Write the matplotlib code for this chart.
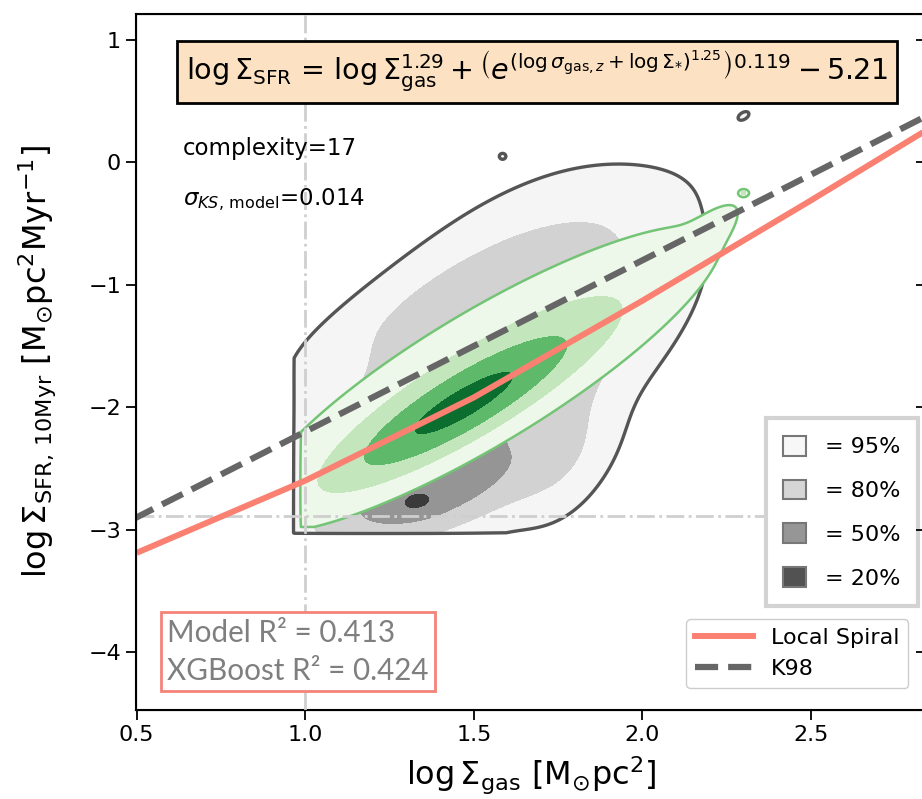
import numpy as np
import matplotlib
matplotlib.use('Agg')
import matplotlib.pyplot as plt
from matplotlib.patches import Patch
from matplotlib.lines import Line2D

# ---- data ----
# grey KDE (all pixels): sheared gaussian blobs (centre, slope, widths, height)
grey_cx = [1.37, 1.33, 1.50, 1.58, 1.75, 1.47, 1.585, 2.30]
grey_cy = [-2.70, -2.78, -1.85, -1.45, -2.35, -1.05, 0.05, 0.38]
grey_k = [0.8, 0.3, 1.45, 1.40, 1.2, 1.2, 0.0, 1.0]
grey_st = [0.20, 0.04, 0.28, 0.29, 0.10, 0.30, 0.008, 0.018]
grey_sr = [0.22, 0.06, 0.40, 0.62, 0.35, 0.22, 0.02, 0.035]
grey_amp = [0.55, 0.35, 0.40, 0.30, 0.15, 0.13, 0.07, 0.065]
grey_levels = [0.05, 0.20, 0.45, 0.90]
grey_cut = (0.965, -3.03)

# green KDE (model)
green_cx = [1.46, 1.55, 2.20, 2.30]
green_cy = [-2.00, -1.69, -0.55, -0.25]
green_k = [1.5, 1.5, 2.0, 0.0]
green_st = [0.22, 0.36, 0.06, 0.007]
green_sr = [0.18, 0.31, 0.10, 0.014]
green_amp = [1.00, 0.35, 0.06, 0.40]
green_levels = [0.06, 0.27, 0.61, 1.08]
green_cut = (0.985, -2.98)

level_labels = ['= 95%', '= 80%', '= 50%', '= 20%']

# local spiral relation
spiral_x = [0.5, 1.0, 1.5, 2.0, 2.5, 2.9]
spiral_y = [-3.19, -2.60, -1.92, -1.13, -0.31, 0.36]

# K98
k98_slope = 1.4
k98_norm = -3.6

gas_cut = 1.0
sfr_cut = -2.89

equation = (r'$\log\Sigma_{\rm SFR}$ = $\log\Sigma_{\rm gas}^{1.29} + '
            r'\left(e^{(\log\sigma_{{\rm gas},z} + \log\Sigma_{*})^{1.25}}\right)^{0.119} - 5.21$')
complexity = 17
sigma_ks = 0.014
r2_model = 0.413
r2_xgb = 0.424

grey_fill = ['#f5f5f5', '#d2d2d2', '#959595', '#3a3a3a']
grey_legend = ['#f7f7f7', '#d6d6d6', '#969696', '#525252']
green_fill = ['#edf7ea', '#c3e6bd', '#5fb96b', '#0b6e2f']


def density(X, Y, cx, cy, k, st, sr, amp, cut):
    Z = np.zeros_like(X)
    for i in range(len(cx)):
        t = X - cx[i]
        r = (Y - cy[i]) - k[i] * t
        Z += amp[i] * np.exp(-0.5 * ((t / st[i]) ** 2 + (r / sr[i]) ** 2))
    Z[(X < cut[0]) | (Y < cut[1])] = 0
    return Z


fig = plt.figure(figsize=(9.22, 7.99), dpi=100)
ax = fig.add_axes([135.7 / 922, 1 - 710 / 799, 790 / 922, 696 / 799])

gx = np.linspace(0.85, 2.6, 600)
gy = np.linspace(-3.3, 0.8, 600)
X, Y = np.meshgrid(gx, gy)

Zg = density(X, Y, grey_cx, grey_cy, grey_k, grey_st, grey_sr, grey_amp, grey_cut)
ax.contourf(X, Y, Zg, levels=grey_levels + [99], colors=grey_fill, zorder=1)
ax.contour(X, Y, Zg, levels=grey_levels[:1], colors='#555555', linewidths=2.4, zorder=1.5)

Zm = density(X, Y, green_cx, green_cy, green_k, green_st, green_sr, green_amp, green_cut)
ax.contourf(X, Y, Zm, levels=green_levels + [99], colors=green_fill, zorder=2)
ax.contour(X, Y, Zm, levels=green_levels[:1], colors='#74c476', linewidths=1.8, zorder=2.5)

ax.axvline(gas_cut, color='#cfcfcf', ls='-.', lw=2, zorder=3)
ax.axhline(sfr_cut, color='#cfcfcf', ls='-.', lw=2, zorder=3)

xx = np.array([0.4, 3.0])
ax.plot(spiral_x, spiral_y, color='salmon', lw=4.3, zorder=4, solid_capstyle='butt')
ax.plot(xx, k98_slope * xx + k98_norm, color='#666666', lw=4.5, ls='--', zorder=4)

ax.set_xlim(0.497, 2.84)
ax.set_ylim(-4.474, 1.212)
ax.set_xticks([0.5, 1.0, 1.5, 2.0, 2.5])
ax.set_xticklabels(['0.5', '1.0', '1.5', '2.0', '2.5'])
ax.set_yticks([-4, -3, -2, -1, 0, 1])
ax.tick_params(labelsize=16, length=7, width=1.3)
for s in ax.spines.values():
    s.set_linewidth(1.5)

ax_r = ax.twinx()
ax_r.set_ylim(ax.get_ylim())
ax_r.set_yticks([-4, -3, -2, -1, 0, 1])
ax_r.tick_params(direction='in', length=7, width=1.3, labelright=False)

ax.set_xlabel(r'$\log\Sigma_{\rm gas}$ [M$_{\odot}$pc$^{2}$]', fontsize=23, labelpad=7)
ax.set_ylabel(r'$\log\Sigma_{\rm SFR,\,10Myr}$ [M$_{\odot}$pc$^{2}$Myr$^{-1}$]', fontsize=23, labelpad=22)

ax.text(0.508, 0.917, equation, transform=ax.transAxes, ha='center', va='center',
        fontsize=20.6, zorder=6,
        bbox=dict(boxstyle='square,pad=0.3', facecolor='#fde1c3', edgecolor='black', lw=2))

ax.text(0.060, 0.807, f'complexity={complexity}', transform=ax.transAxes,
        fontsize=16.5, va='center', ha='left')
ax.text(0.060, 0.733, r'$\sigma_{KS,\,\mathrm{model}}$' + f'={sigma_ks}', transform=ax.transAxes,
        fontsize=16.5, va='center', ha='left')

ax.text(0.040, 0.036, f'Model R\u00b2 = {r2_model}\nXGBoost R\u00b2 = {r2_xgb}',
        transform=ax.transAxes, ha='left', va='bottom', fontsize=21.3, family='Lato',
        color='#7f7f7f', linespacing=1.45, zorder=6,
        bbox=dict(boxstyle='square,pad=0.22', facecolor='white', edgecolor='#f4837a', lw=2))

handles = [Patch(facecolor=c, edgecolor='#777777', lw=1.5) for c in grey_legend]
leg1 = ax.legend(handles, level_labels, loc='upper right', bbox_to_anchor=(0.990, 0.4195),
                 fontsize=16, handlelength=1.0, handleheight=1.0, labelspacing=1.0,
                 borderpad=0.8, handletextpad=0.85, fancybox=False, framealpha=1,
                 edgecolor='#d3d3d3', borderaxespad=0)
leg1.get_frame().set_linewidth(3)
ax.add_artist(leg1)

line_handles = [Line2D([], [], color='salmon', lw=4.3),
                Line2D([], [], color='#666666', lw=4.5, ls='--')]
ax.legend(line_handles, ['Local Spiral', 'K98'], loc='lower right',
          bbox_to_anchor=(0.978, 0.0316), fontsize=16, handlelength=2.6,
          framealpha=1, borderaxespad=0)

fig.savefig('out.png', dpi=100)
